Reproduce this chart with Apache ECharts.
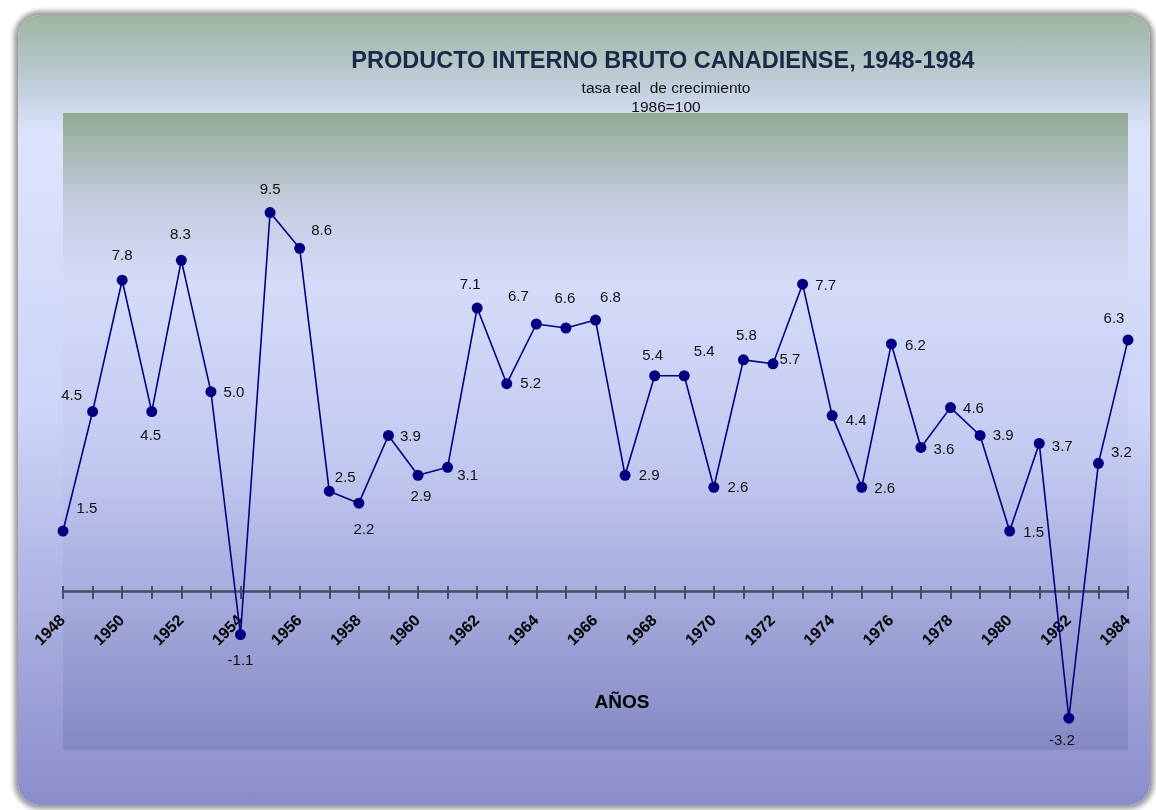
<!DOCTYPE html>
<html>
<head>
<meta charset="utf-8">
<script src="https://cdn.jsdelivr.net/npm/echarts@6/dist/echarts.min.js"></script>
<style>
  html, body { margin: 0; padding: 0; background: #fff; }
  .frame {
    position: absolute;
    left: 18px; top: 15px;
    width: 1132px; height: 790px;
    border-radius: 22px;
    background: linear-gradient(to bottom,
      #9eb49f 0%, #c5d2e2 10%, #dce4fd 15%, #cdd5f8 50%, #8a8dcb 100%);
    box-shadow: 0 0 5px 4px #9a9a9a;
  }
  #chart { position: absolute; left: 0; top: 0; width: 1156px; height: 810px; }
</style>
</head>
<body>
<div class="frame"></div>
<div id="chart"></div>
<script>
const years = ['1948', '1949', '1950', '1951', '1952', '1953', '1954', '1955', '1956', '1957',
  '1958', '1959', '1960', '1961', '1962', '1963', '1964', '1965', '1966', '1967',
  '1968', '1969', '1970', '1971', '1972', '1973', '1974', '1975', '1976', '1977',
  '1978', '1979', '1980', '1981', '1982', '1983', '1984']
const growth = [1.5, 4.5, 7.8, 4.5, 8.3, 5.0, -1.1, 9.5, 8.6, 2.5,
  2.2, 3.9, 2.9, 3.1, 7.1, 5.2, 6.7, 6.6, 6.8, 2.9,
  5.4, 5.4, 2.6, 5.8, 5.7, 7.7, 4.4, 2.6, 6.2, 3.6,
  4.6, 3.9, 1.5, 3.7, -3.2, 3.2, 6.3]

// where each value label sits relative to its point (px)
const labelOffsets = [
  [24, -22], [-21, -16], [0, -24], [-1, 24], [-1, -25], [23, 1], [0, 26], [0, -23], [22, -18], [16, -13],
  [5, 27], [22, 1], [3, 22], [20, 9], [-7, -23], [24, 0], [-18, -27], [-1, -29], [15, -22], [24, 1],
  [-2, -20], [20, -24], [24, 1], [3, -24], [17, -4], [23, 2], [24, 5], [23, 2], [24, 2], [23, 2],
  [23, 1], [23, 0], [24, 2], [23, 3], [-7, 23], [23, -10], [-14, -21]
]

const yMin = -4
const yMax = 12
// grid box, px
const gridTop = 113
const gridBottom = 60
const gridHeight = 810 - gridTop - gridBottom
// move the category axis from the grid bottom up to y = 0
const axisShift = -Math.round(gridHeight * (0 - yMin) / (yMax - yMin))

const chart = echarts.init(document.getElementById('chart'))

const seriesData = growth.map((v, i) => ({
  value: v,
  label: { offset: labelOffsets[i] }
}))

const narrow = '"Liberation Sans Narrow", "Liberation Sans", Arial, sans-serif'
const sans = '"Liberation Sans", Arial, sans-serif'

chart.setOption({
  backgroundColor: 'transparent',
  animation: false,
  title: [
    {
      text: 'PRODUCTO INTERNO BRUTO CANADIENSE, 1948-1984',
      left: 658, top: 45, textAlign: 'center',
      textStyle: { fontFamily: narrow, fontWeight: 'bold', fontSize: 23.5, color: '#172a48' }
    },
    {
      text: 'tasa real  de crecimiento',
      left: 661, top: 76, textAlign: 'center',
      textStyle: { fontFamily: narrow, fontWeight: 'normal', fontSize: 15.5, color: '#111' }
    },
    {
      text: '1986=100',
      left: 661, top: 95, textAlign: 'center',
      textStyle: { fontFamily: narrow, fontWeight: 'normal', fontSize: 15.5, color: '#111' }
    },
    {
      text: 'AÑOS',
      left: 617, top: 688, textAlign: 'center',
      textStyle: { fontFamily: sans, fontWeight: 'bold', fontSize: 19, color: '#000' }
    }
  ],
  grid: {
    left: 63, right: 28, top: gridTop, bottom: gridBottom,
    show: true,
    borderWidth: 0,
    backgroundColor: new echarts.graphic.LinearGradient(0, 0, 0, 1, [
      { offset: 0, color: '#93aa92' },
      { offset: 0.14, color: '#c4cde0' },
      { offset: 0.27, color: '#d4dcf9' },
      { offset: 0.55, color: '#c2c9f0' },
      { offset: 1, color: '#8489c4' }
    ])
  },
  xAxis: [
    {
      type: 'category',
      data: years,
      boundaryGap: false,
      position: 'bottom',
      offset: axisShift,
      axisLine: { onZero: false, lineStyle: { color: '#3e5266', width: 2.5 } },
      axisTick: { show: true, inside: false, length: 8, interval: 0, lineStyle: { color: '#3e5266', width: 2 } },
      axisLabel: {
        interval: 1, rotate: 45, margin: 27,
        fontFamily: sans, fontWeight: 'bold', fontSize: 16, color: '#000'
      },
      splitLine: { show: false }
    },
    {
      type: 'category',
      data: years,
      boundaryGap: false,
      position: 'bottom',
      offset: axisShift,
      axisLine: { show: false, onZero: false },
      axisTick: { show: true, inside: true, length: 5, interval: 0, lineStyle: { color: '#3e5266', width: 2 } },
      axisLabel: { show: false },
      splitLine: { show: false }
    }
  ],
  yAxis: {
    type: 'value',
    min: yMin, max: yMax, interval: 2,
    show: false,
    splitLine: { show: false }
  },
  series: [
    {
      type: 'line',
      data: seriesData,
      symbol: 'circle',
      symbolSize: 11,
      itemStyle: { color: '#000080' },
      lineStyle: { color: '#000080', width: 1.6 },
      z: 5,
      label: {
        show: true,
        position: 'inside',
        formatter: p => p.value.toFixed(1),
        fontFamily: sans,
        fontSize: 15,
        color: '#111'
      }
    }
  ]
})
</script>
</body>
</html>
